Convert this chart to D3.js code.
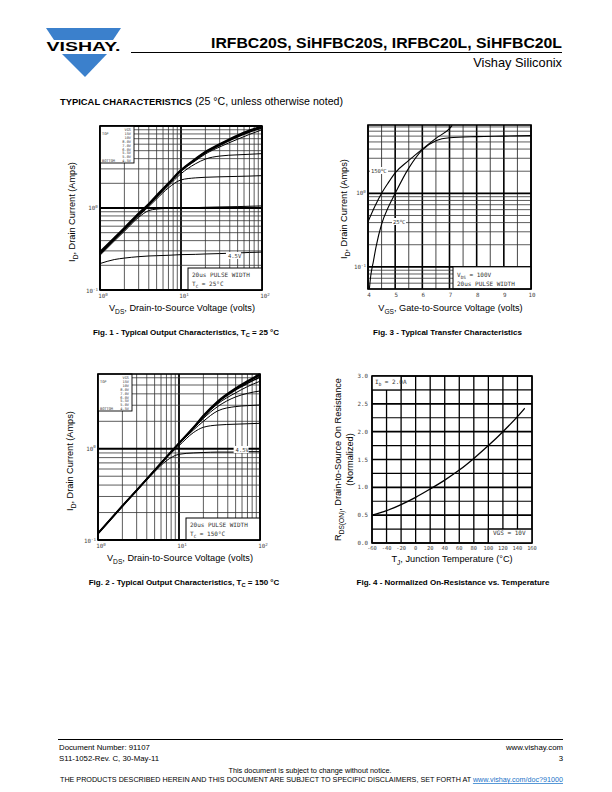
<!DOCTYPE html>
<html><head><meta charset="utf-8">
<script src="https://cdn.jsdelivr.net/npm/d3@7"></script>
<style>body{margin:0;background:#fff}svg{display:block}</style>
</head><body>
<script>
// ---------------- DATA ----------------
// Fig.1 / Fig.2 : output characteristics (VDS in volts, ID in amps)
const vdsPts = [1, 1.5, 2, 3, 4, 5, 7, 10, 15, 20, 30, 50, 70, 100];
const vgsLegend = ["VGS", "15V", "10V", "8.0V", "7.0V", "6.0V", "5.5V", "5.0V", "4.5V"];
const fig1_15V = [0.29, 0.43, 0.57, 0.86, 1.12, 1.42, 2.0, 2.9, 3.95, 4.85, 6.0, 7.7, 8.8, 9.9];
const fig1_10V = [0.285, 0.425, 0.565, 0.85, 1.11, 1.40, 1.98, 2.87, 3.9, 4.78, 5.9, 7.55, 8.65, 9.75];
const fig1_8V  = [0.28, 0.42, 0.56, 0.845, 1.10, 1.39, 1.96, 2.84, 3.84, 4.7, 5.8, 7.35, 8.4, 9.5];
const fig1_7V  = [0.278, 0.415, 0.55, 0.835, 1.09, 1.37, 1.93, 2.8, 3.75, 4.55, 5.55, 6.9, 7.9, 9.0];
const fig1_6V  = [0.275, 0.41, 0.545, 0.82, 1.07, 1.34, 1.86, 2.62, 3.45, 3.95, 4.3, 4.45, 4.52, 4.6];
const fig1_55V = [0.27, 0.405, 0.535, 0.80, 1.04, 1.29, 1.76, 2.2, 2.33, 2.37, 2.4, 2.43, 2.45, 2.48];
const fig1_5V  = [0.265, 0.395, 0.52, 0.77, 0.93, 0.97, 0.99, 1.0, 1.01, 1.02, 1.03, 1.04, 1.05, 1.06];
const fig1_45V = [0.21, 0.235, 0.245, 0.255, 0.26, 0.262, 0.265, 0.27, 0.272, 0.275, 0.278, 0.283, 0.287, 0.29];

const fig2_15V = [0.118, 0.177, 0.236, 0.35, 0.465, 0.58, 0.81, 1.15, 1.7, 2.3, 3.3, 4.6, 5.5, 6.6];
const fig2_10V = [0.118, 0.177, 0.236, 0.35, 0.465, 0.58, 0.81, 1.15, 1.69, 2.28, 3.25, 4.5, 5.4, 6.4];
const fig2_8V  = [0.118, 0.177, 0.236, 0.35, 0.465, 0.58, 0.81, 1.14, 1.68, 2.25, 3.2, 4.4, 5.2, 6.1];
const fig2_7V  = [0.118, 0.177, 0.236, 0.35, 0.465, 0.58, 0.81, 1.14, 1.67, 2.22, 3.1, 4.1, 4.8, 5.5];
const fig2_6V  = [0.118, 0.177, 0.236, 0.35, 0.465, 0.58, 0.81, 1.14, 1.65, 2.15, 2.9, 3.7, 4.05, 4.3];
const fig2_55V = [0.118, 0.177, 0.236, 0.35, 0.465, 0.58, 0.81, 1.13, 1.6, 2.0, 2.6, 2.9, 2.97, 3.02];
const fig2_5V  = [0.118, 0.177, 0.236, 0.35, 0.465, 0.58, 0.80, 1.08, 1.5, 1.72, 1.82, 1.86, 1.88, 1.9];
const fig2_45V = [0.118, 0.177, 0.236, 0.35, 0.46, 0.56, 0.74, 0.87, 0.9, 0.91, 0.92, 0.92, 0.93, 0.93];

// Fig.3 : transfer characteristics (VGS volts, ID amps)
const vgs150 = [4.0, 4.25, 4.5, 4.75, 5.0, 5.5, 6.0, 6.5, 7.0, 7.1];
const id150  = [0.41, 0.66, 1.0, 1.4, 1.9, 2.8, 4.0, 5.6, 7.6, 8.4];
const vgs25  = [4.05, 4.1, 4.2, 4.3, 4.5, 4.75, 5.0, 5.5, 6.0, 6.5, 7.0, 8.0, 9.0, 10.0];
const id25   = [0.05, 0.075, 0.12, 0.19, 0.38, 0.65, 1.0, 2.2, 3.9, 5.2, 5.7, 5.9, 6.0, 6.1];

// Fig.4 : normalized RDS(on) vs TJ
const tjPts  = [-60, -40, -20, 0, 20, 40, 60, 80, 100, 120, 140, 150];
const rdsPts = [0.5, 0.58, 0.69, 0.82, 0.97, 1.13, 1.31, 1.52, 1.75, 2.0, 2.27, 2.42];
const fig4XTicks = [-60, -40, -20, 0, 20, 40, 60, 80, 100, 120, 140, 160];
const fig4YTicks = ["0.0", "0.5", "1.0", "1.5", "2.0", "2.5", "3.0"];
const fig3XTicks = [4, 5, 6, 7, 8, 9, 10];

// ---------------- DRAWING ----------------
const SANS = "Liberation Sans, Arial, Helvetica, sans-serif";
const MONO = "DejaVu Sans Mono, monospace";
const svg = d3.select("body").append("svg").attr("width", 612).attr("height", 792)
  .style("font-family", SANS);

// rich text helper: parts = [[text, 'sub'|'sup'|null], ...]
function rich(g, x, y, parts, o) {
  o = o || {};
  const t = g.append("text").attr("x", x).attr("y", y)
    .attr("font-size", o.size || 9).attr("fill", o.fill || "#000")
    .attr("text-anchor", o.anchor || "start")
    .attr("font-weight", o.weight || "normal")
    .attr("font-family", o.family || SANS);
  if (o.transform) t.attr("transform", o.transform);
  let shift = 0;
  parts.forEach(p => {
    const [s, k] = Array.isArray(p) ? p : [p, null];
    const target = k === "sub" ? 0.3 : k === "sup" ? -0.4 : 0;
    const ts = t.append("tspan").text(s).attr("dy", (target - shift) + "em");
    if (k) ts.attr("font-size", "0.72em").attr("dy", ((target - shift) / 0.72) + "em");
    shift = target;
  });
  return t;
}

// ---- header ----
const blue = "#3b80cc";
svg.append("polygon").attr("points", "46,28 121,28 113,40 54,40").attr("fill", blue);
svg.append("text").attr("x", 83.5).attr("y", 51).attr("text-anchor", "middle")
  .attr("font-size", 12.5).attr("font-weight", "bold").attr("textLength", 74)
  .attr("lengthAdjust", "spacingAndGlyphs").text("VISHAY.");
svg.append("polygon").attr("points", "62,54 107,54 85,77").attr("fill", blue);
svg.append("text").attr("x", 562).attr("y", 48).attr("text-anchor", "end")
  .attr("font-size", 15).attr("font-weight", "bold").attr("textLength", 351)
  .attr("lengthAdjust", "spacingAndGlyphs").text("IRFBC20S, SiHFBC20S, IRFBC20L, SiHFBC20L");
svg.append("line").attr("x1", 131).attr("x2", 562).attr("y1", 52.5).attr("y2", 52.5)
  .attr("stroke", "#000").attr("stroke-width", 1);
svg.append("text").attr("x", 562).attr("y", 67).attr("text-anchor", "end")
  .attr("font-size", 12.8).text("Vishay Siliconix");

const sec = svg.append("text").attr("x", 60).attr("y", 104.5).attr("font-size", 9.4);
sec.append("tspan").attr("font-weight", "bold").text("TYPICAL CHARACTERISTICS");
sec.append("tspan").attr("font-size", 10.6).text(" (25 °C, unless otherwise noted)");

// ---- footer ----
svg.append("line").attr("x1", 58).attr("x2", 563).attr("y1", 739.5).attr("y2", 739.5)
  .attr("stroke", "#000").attr("stroke-width", 1);
const fs = 7.8;
svg.append("text").attr("x", 59).attr("y", 750).attr("font-size", fs).text("Document Number: 91107");
svg.append("text").attr("x", 59).attr("y", 761).attr("font-size", fs).text("S11-1052-Rev. C, 30-May-11");
svg.append("text").attr("x", 563).attr("y", 750).attr("font-size", fs).attr("text-anchor", "end").text("www.vishay.com");
svg.append("text").attr("x", 563).attr("y", 761).attr("font-size", fs).attr("text-anchor", "end").text("3");
svg.append("text").attr("x", 310).attr("y", 773).attr("font-size", 7.3).attr("text-anchor", "middle")
  .text("This document is subject to change without notice.");
const disc = svg.append("text").attr("x", 60).attr("y", 782).attr("font-size", 7.3)
  .attr("textLength", 503).attr("lengthAdjust", "spacingAndGlyphs");
disc.append("tspan").text("THE PRODUCTS DESCRIBED HEREIN AND THIS DOCUMENT ARE SUBJECT TO SPECIFIC DISCLAIMERS, SET FORTH AT ");
disc.append("tspan").attr("fill", "#1a73c8").attr("text-decoration", "underline").text("www.vishay.com/doc?91000");

// ---- chart helpers ----
function frame(g, x0, y0, w, h) {
  g.append("rect").attr("x", x0).attr("y", y0).attr("width", w).attr("height", h)
    .attr("fill", "none").attr("stroke", "#000").attr("stroke-width", 1.6);
}
function vline(g, x, y0, y1, sw, c) {
  g.append("line").attr("x1", x).attr("x2", x).attr("y1", y0).attr("y2", y1)
    .attr("stroke", c || "#000").attr("stroke-width", sw);
}
function hline(g, y, x0, x1, sw, c) {
  g.append("line").attr("x1", x0).attr("x2", x1).attr("y1", y).attr("y2", y)
    .attr("stroke", c || "#000").attr("stroke-width", sw);
}
const isDecade = v => Math.abs(Math.log10(v) - Math.round(Math.log10(v))) < 1e-6;

function logGridX(g, x, y) {
  const [y1, y0] = y.range();
  x.ticks().forEach(v => vline(g, x(v), y0, y1, isDecade(v) ? 1.8 : 0.8, isDecade(v) ? "#000" : "#333"));
}
function logGridY(g, x, y) {
  const [x0, x1] = x.range();
  y.ticks().forEach(v => hline(g, y(v), x0, x1, isDecade(v) ? 1.8 : 0.8, isDecade(v) ? "#000" : "#333"));
}
function curve(g, x, y, xs, ys, sw) {
  const line = d3.line().x(d => x(d[0])).y(d => y(d[1])).curve(d3.curveMonotoneX);
  g.append("path").attr("d", line(xs.map((v, i) => [v, ys[i]])))
    .attr("fill", "none").attr("stroke", "#000").attr("stroke-width", sw || 1)
    .attr("stroke-linejoin", "round");
}
function decLabel(g, px, py, exp, anchor) {
  rich(g, px, py, [["10", null], [String(exp), "sup"]],
    { size: 5.8, family: MONO, fill: "#444", anchor: anchor || "middle" });
}
function vgsLegendBox(g, x0, y0) {
  g.append("rect").attr("x", x0).attr("y", y0).attr("width", 34).attr("height", 37)
    .attr("fill", "#fff").attr("stroke", "#000").attr("stroke-width", 0.9);
  vgsLegend.forEach((s, i) => {
    g.append("text").attr("x", x0 + 31).attr("y", y0 + 5 + i * 3.9).attr("text-anchor", "end")
      .attr("font-size", 3.6).attr("font-family", MONO).attr("fill", "#333").text(s);
  });
  g.append("text").attr("x", x0 + 2).attr("y", y0 + 8.9).attr("font-size", 3.6)
    .attr("font-family", MONO).attr("fill", "#333").text("TOP");
  g.append("text").attr("x", x0 + 2).attr("y", y0 + 5 + 8 * 3.9).attr("font-size", 3.6)
    .attr("font-family", MONO).attr("fill", "#333").text("BOTTOM");
}
function noteBox(g, x0, y0, x1, y1) {
  g.append("rect").attr("x", x0).attr("y", y0).attr("width", x1 - x0).attr("height", y1 - y0)
    .attr("fill", "#fff").attr("stroke", "#000").attr("stroke-width", 1);
}
const mono = (g, x, y, parts, size) => rich(g, x, y, parts, { size: size || 6, family: MONO, fill: "#333" });

// ---- output characteristics chart (Fig 1 & 2) ----
function outputChart(X0, Y0, W, H, yMax, series, tcText, noteY, label45, capY, capText) {
  const g = svg.append("g");
  const x = d3.scaleLog().domain([1, 100]).range([X0, X0 + W]);
  const y = d3.scaleLog().domain([0.1, yMax]).range([Y0 + H, Y0]);
  logGridX(g, x, y); logGridY(g, x, y);
  series.forEach(s => curve(g, x, y, vdsPts, s[0], s[1]));
  // 4.5V label
  const lx = x(label45[0]), ly = y(label45[1]);
  g.append("rect").attr("x", lx - 2).attr("y", ly - 4).attr("width", 15).attr("height", 7).attr("fill", "#fff");
  mono(g, lx, ly + 2, ["4.5V"], 5.5);
  vgsLegendBox(g, X0, Y0);
  noteBox(g, X0 + W - 74, noteY, X0 + W, Y0 + H);
  mono(g, X0 + W - 70, noteY + 8.5, ["20us PULSE WIDTH"], 6);
  mono(g, X0 + W - 70, noteY + 18, [["T", null], ["C", "sub"], [" = " + tcText, null]], 6);
  frame(g, X0, Y0, W, H);
  // tick labels
  [0, 1, 2].forEach(e => decLabel(g, x(Math.pow(10, e)) + 3, Y0 + H + 8, e));
  decLabel(g, X0 - 7, y(1) + 2, 0);
  decLabel(g, X0 - 8, Y0 + H + 3, -1);
  // axis titles
  rich(g, X0 + W / 2 + 1, Y0 + H + 21, [["V", null], ["DS", "sub"], [", Drain-to-Source Voltage (volts)", null]],
    { size: 9.2, anchor: "middle" });
  rich(g, 0, 0, [["I", null], ["D", "sub"], [", Drain Current (Amps)", null]],
    { size: 9.2, anchor: "middle", transform: `translate(${X0 - 25},${Y0 + H / 2 + 4}) rotate(-90)` });
  rich(g, X0 + W / 2 + 5, capY, [["Fig. " + capText[0] + " - Typical Output Characteristics, T", null], ["C", "sub"], [" = " + capText[1] + " °C", null]],
    { size: 8, weight: "bold", anchor: "middle" });
}

outputChart(100, 126, 162, 164, 10,
  [[fig1_45V, 1], [fig1_5V, 1], [fig1_55V, 1], [fig1_6V, 1], [fig1_7V, 1], [fig1_8V, 1.3], [fig1_10V, 1.6], [fig1_15V, 2]],
  "25°C", 268, [38, 0.26], 334.5, ["1", "25"]);

outputChart(98, 374, 162, 166, 6.6,
  [[fig2_45V, 1], [fig2_5V, 1], [fig2_55V, 1], [fig2_6V, 1], [fig2_7V, 1], [fig2_8V, 1.3], [fig2_10V, 1.6], [fig2_15V, 2]],
  "150°C", 518, [50, 0.97], 584.5, ["2", "150"]);

// ---- Fig 3 transfer ----
(function () {
  const X0 = 368, Y0 = 125, W = 163, H = 164;
  const g = svg.append("g");
  const x = d3.scaleLinear().domain([4, 10]).range([X0, X0 + W]);
  const y = d3.scaleLog().domain([0.05, 8.5]).range([Y0 + H, Y0]);
  d3.range(4, 10.01, 0.5).forEach(v => vline(g, x(v), Y0, Y0 + H, Number.isInteger(v) ? 1.6 : 0.9, Number.isInteger(v) ? "#000" : "#333"));
  logGridY(g, x, y);
  noteBox(g, 453, y(0.1), X0 + W, Y0 + H);
  mono(g, 457, y(0.1) + 10, [["V", null], ["DS", "sub"], [" = 100V", null]], 6);
  mono(g, 457, y(0.1) + 19, ["20us PULSE WIDTH"], 6);
  const gc = g.append("g");
  gc.append("clipPath").attr("id", "c3").append("rect").attr("x", X0).attr("y", Y0).attr("width", W).attr("height", H);
  const cg = gc.append("g").attr("clip-path", "url(#c3)");
  curve(cg, x, y, vgs150, id150, 1.1);
  curve(cg, x, y, vgs25, id25, 1.1);
  // labels
  g.append("rect").attr("x", 370).attr("y", 167).attr("width", 18).attr("height", 7).attr("fill", "#fff");
  mono(g, 371, 173, [["150", null], ["o", "sup"], ["C", null]], 5.5);
  g.append("rect").attr("x", 392).attr("y", 218).attr("width", 14).attr("height", 7).attr("fill", "#fff");
  mono(g, 393, 224, [["25", null], ["o", "sup"], ["C", null]], 5.5);
  frame(g, X0, Y0, W, H);
  fig3XTicks.forEach(v => g.append("text").attr("x", x(v) + 1).attr("y", Y0 + H + 8).attr("text-anchor", "middle")
    .attr("font-size", 5.8).attr("font-family", MONO).attr("fill", "#444").text(v));
  decLabel(g, X0 - 7, y(1) + 2, 0);
  decLabel(g, X0 - 8, y(0.1) + 2, -1);
  rich(g, X0 + W / 2 + 1, Y0 + H + 22, [["V", null], ["GS", "sub"], [", Gate-to-Source Voltage (volts)", null]],
    { size: 9.2, anchor: "middle" });
  rich(g, 0, 0, [["I", null], ["D", "sub"], [", Drain Current (Amps)", null]],
    { size: 9.2, anchor: "middle", transform: `translate(${X0 - 21},${Y0 + H / 2 + 2}) rotate(-90)` });
  g.append("text").attr("x", X0 + W / 2 - 2).attr("y", 334.5).attr("text-anchor", "middle")
    .attr("font-size", 8).attr("font-weight", "bold").text("Fig. 3 - Typical Transfer Characteristics");
})();

// ---- Fig 4 ----
(function () {
  const X0 = 372, Y0 = 376, W = 160, H = 167;
  const g = svg.append("g");
  const x = d3.scaleLinear().domain([-60, 160]).range([X0, X0 + W]);
  const y = d3.scaleLinear().domain([0, 3]).range([Y0 + H, Y0]);
  fig4XTicks.forEach(v => vline(g, x(v), Y0, Y0 + H, 1.3));
  d3.range(0, 3.01, 0.25).forEach(v => hline(g, y(v), X0, X0 + W, (v * 2) % 1 === 0 ? 1.6 : 1.1));
  g.append("rect").attr("x", X0).attr("y", Y0).attr("width", x(-20) - X0).attr("height", y(2.75) - Y0).attr("fill", "#fff");
  vline(g, x(-20), Y0, y(2.75), 1.3); hline(g, y(2.75), X0, x(-20), 1.1);
  mono(g, 375, 384, [["I", null], ["D", "sub"], [" = 2.0A", null]], 6);
  g.append("rect").attr("x", x(100)).attr("y", y(0.25)).attr("width", X0 + W - x(100)).attr("height", Y0 + H - y(0.25)).attr("fill", "#fff");
  vline(g, x(100), y(0.25), Y0 + H, 1.3); hline(g, y(0.25), x(100), X0 + W, 1.1);
  mono(g, 493, 535, ["VGS = 10V"], 6);
  curve(g, x, y, tjPts, rdsPts, 1.3);
  frame(g, X0, Y0, W, H);
  fig4XTicks.forEach(v => g.append("text").attr("x", x(v)).attr("y", Y0 + H + 7).attr("text-anchor", "middle")
    .attr("font-size", 5.4).attr("font-family", MONO).attr("fill", "#444").text(v));
  fig4YTicks.forEach(s => g.append("text").attr("x", X0 - 4).attr("y", y(+s) + 2).attr("text-anchor", "end")
    .attr("font-size", 5.8).attr("font-family", MONO).attr("fill", "#444").text(s));
  rich(g, X0 + W / 2, Y0 + H + 19, [["T", null], ["J", "sub"], [", Junction Temperature (°C)", null]],
    { size: 9.2, anchor: "middle" });
  rich(g, 0, 0, [["R", null], ["DS(ON)", "sub"], [", Drain-to-Source On Resistance", null]],
    { size: 9.2, anchor: "middle", transform: `translate(341,${Y0 + H / 2}) rotate(-90)` });
  g.append("text").attr("transform", `translate(353,${Y0 + H / 2}) rotate(-90)`).attr("text-anchor", "middle")
    .attr("font-size", 9.2).text("(Normalized)");
  g.append("text").attr("x", 453).attr("y", 584.5).attr("text-anchor", "middle")
    .attr("font-size", 8).attr("font-weight", "bold").text("Fig. 4 - Normalized On-Resistance vs. Temperature");
})();
</script>
</body></html>
